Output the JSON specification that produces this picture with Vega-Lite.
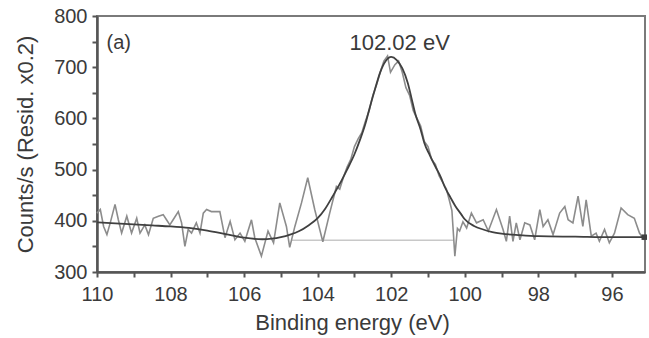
{
  "$schema": "https://vega.github.io/schema/vega-lite/v6.json",
  "width": 548,
  "height": 256,
  "autosize": {"type": "none"},
  "padding": {"left": 97, "top": 16, "right": 4, "bottom": 66},
  "background": "white",
  "config": {
    "font": "Liberation Sans",
    "view": {"stroke": "#7a7a7a", "strokeWidth": 2},
    "axis": {
      "grid": false,
      "domainColor": "#555555",
      "domainWidth": 2.5,
      "tickColor": "#555555",
      "tickWidth": 2,
      "labelFont": "Liberation Sans",
      "labelFontSize": 20,
      "labelColor": "#3a3a3a",
      "titleFont": "Liberation Sans",
      "titleFontSize": 22,
      "titleFontWeight": "normal",
      "titleColor": "#3a3a3a"
    }
  },
  "datasets": {
    "spectrum": [
      {"e": 110.0, "c": 415}, {"e": 109.91, "c": 422}, {"e": 109.82, "c": 389}, {"e": 109.73, "c": 373},
      {"e": 109.64, "c": 396}, {"e": 109.51, "c": 432}, {"e": 109.42, "c": 402}, {"e": 109.33, "c": 376},
      {"e": 109.19, "c": 409}, {"e": 109.06, "c": 376}, {"e": 108.92, "c": 405}, {"e": 108.83, "c": 376},
      {"e": 108.7, "c": 392}, {"e": 108.6, "c": 373}, {"e": 108.47, "c": 405}, {"e": 108.33, "c": 409},
      {"e": 108.2, "c": 412}, {"e": 108.11, "c": 402}, {"e": 108.02, "c": 392}, {"e": 107.93, "c": 402},
      {"e": 107.79, "c": 418}, {"e": 107.7, "c": 396}, {"e": 107.61, "c": 350}, {"e": 107.52, "c": 383},
      {"e": 107.43, "c": 376}, {"e": 107.3, "c": 396}, {"e": 107.2, "c": 376}, {"e": 107.11, "c": 415},
      {"e": 107.02, "c": 422}, {"e": 106.89, "c": 418}, {"e": 106.66, "c": 418}, {"e": 106.52, "c": 367},
      {"e": 106.38, "c": 399}, {"e": 106.25, "c": 363}, {"e": 106.11, "c": 376}, {"e": 105.98, "c": 360},
      {"e": 105.8, "c": 402}, {"e": 105.71, "c": 367}, {"e": 105.53, "c": 331}, {"e": 105.35, "c": 380},
      {"e": 105.2, "c": 357}, {"e": 105.03, "c": 435}, {"e": 104.85, "c": 389}, {"e": 104.76, "c": 348},
      {"e": 104.62, "c": 389}, {"e": 104.44, "c": 435}, {"e": 104.27, "c": 484}, {"e": 104.08, "c": 422},
      {"e": 103.86, "c": 359}, {"e": 103.67, "c": 416}, {"e": 103.49, "c": 467}, {"e": 103.4, "c": 462},
      {"e": 103.3, "c": 485}, {"e": 103.2, "c": 505}, {"e": 103.1, "c": 520}, {"e": 103.0, "c": 545},
      {"e": 102.9, "c": 560}, {"e": 102.8, "c": 572}, {"e": 102.7, "c": 595}, {"e": 102.6, "c": 615},
      {"e": 102.5, "c": 645}, {"e": 102.4, "c": 665}, {"e": 102.3, "c": 690}, {"e": 102.2, "c": 712},
      {"e": 102.1, "c": 722}, {"e": 102.02, "c": 690}, {"e": 101.9, "c": 705}, {"e": 101.8, "c": 712},
      {"e": 101.7, "c": 690}, {"e": 101.6, "c": 660}, {"e": 101.5, "c": 645}, {"e": 101.4, "c": 615},
      {"e": 101.3, "c": 600}, {"e": 101.2, "c": 585}, {"e": 101.1, "c": 555}, {"e": 101.0, "c": 545},
      {"e": 100.9, "c": 520}, {"e": 100.8, "c": 510}, {"e": 100.7, "c": 488}, {"e": 100.6, "c": 475},
      {"e": 100.5, "c": 462}, {"e": 100.42, "c": 440}, {"e": 100.35, "c": 420}, {"e": 100.27, "c": 331},
      {"e": 100.2, "c": 385}, {"e": 100.14, "c": 380}, {"e": 100.05, "c": 398}, {"e": 99.95, "c": 386},
      {"e": 99.82, "c": 415}, {"e": 99.68, "c": 396}, {"e": 99.5, "c": 402}, {"e": 99.36, "c": 380},
      {"e": 99.14, "c": 422}, {"e": 98.96, "c": 383}, {"e": 98.87, "c": 360}, {"e": 98.78, "c": 409},
      {"e": 98.69, "c": 360}, {"e": 98.6, "c": 396}, {"e": 98.5, "c": 363}, {"e": 98.37, "c": 396},
      {"e": 98.23, "c": 392}, {"e": 98.1, "c": 363}, {"e": 97.96, "c": 422}, {"e": 97.87, "c": 389},
      {"e": 97.74, "c": 402}, {"e": 97.6, "c": 373}, {"e": 97.42, "c": 415}, {"e": 97.28, "c": 428},
      {"e": 97.19, "c": 402}, {"e": 97.06, "c": 396}, {"e": 96.92, "c": 448}, {"e": 96.79, "c": 389},
      {"e": 96.7, "c": 441}, {"e": 96.56, "c": 370}, {"e": 96.43, "c": 376}, {"e": 96.34, "c": 360},
      {"e": 96.2, "c": 383}, {"e": 96.07, "c": 357}, {"e": 95.93, "c": 376}, {"e": 95.75, "c": 425},
      {"e": 95.57, "c": 412}, {"e": 95.39, "c": 405}, {"e": 95.25, "c": 376}, {"e": 95.12, "c": 363}
    ],
    "fit": [
      {"e": 110.0, "c": 397}, {"e": 109.5, "c": 395}, {"e": 109.0, "c": 393}, {"e": 108.5, "c": 391},
      {"e": 108.0, "c": 389}, {"e": 107.5, "c": 386}, {"e": 107.0, "c": 381}, {"e": 106.5, "c": 374},
      {"e": 106.0, "c": 367}, {"e": 105.5, "c": 364}, {"e": 105.25, "c": 365}, {"e": 105.0, "c": 368},
      {"e": 104.75, "c": 373}, {"e": 104.5, "c": 380}, {"e": 104.25, "c": 391}, {"e": 104.0, "c": 405},
      {"e": 103.8, "c": 423}, {"e": 103.6, "c": 447}, {"e": 103.4, "c": 472}, {"e": 103.2, "c": 500},
      {"e": 103.0, "c": 530}, {"e": 102.85, "c": 558}, {"e": 102.7, "c": 590}, {"e": 102.6, "c": 617},
      {"e": 102.45, "c": 655}, {"e": 102.3, "c": 690}, {"e": 102.15, "c": 712}, {"e": 102.0, "c": 720},
      {"e": 101.85, "c": 714}, {"e": 101.7, "c": 698}, {"e": 101.55, "c": 669}, {"e": 101.45, "c": 640},
      {"e": 101.35, "c": 610}, {"e": 101.2, "c": 578}, {"e": 101.1, "c": 552}, {"e": 100.95, "c": 528},
      {"e": 100.8, "c": 506}, {"e": 100.65, "c": 485}, {"e": 100.55, "c": 467}, {"e": 100.4, "c": 447},
      {"e": 100.25, "c": 428}, {"e": 100.1, "c": 413}, {"e": 100.0, "c": 403}, {"e": 99.75, "c": 390},
      {"e": 99.5, "c": 383}, {"e": 99.25, "c": 378}, {"e": 99.0, "c": 375}, {"e": 98.5, "c": 372},
      {"e": 98.0, "c": 370}, {"e": 97.0, "c": 369}, {"e": 96.0, "c": 368}, {"e": 95.1, "c": 368}
    ],
    "baseline": [
      {"e": 104.7, "c": 362}, {"e": 100.3, "c": 362}
    ],
    "endpoint": [
      {"e": 95.12, "c": 368}
    ],
    "labels": [
      {"e": 101.77, "c": 748, "t": "102.02 eV"}
    ],
    "panel": [
      {"e": 109.74, "c": 748, "t": "(a)"}
    ]
  },
  "encoding": {
    "x": {
      "field": "e",
      "type": "quantitative",
      "scale": {"domain": [95.1, 110], "reverse": true, "nice": false, "zero": false},
      "axis": {
        "title": "Binding energy (eV)",
        "values": [96, 97, 98, 99, 100, 101, 102, 103, 104, 105, 106, 107, 108, 109, 110],
        "labelExpr": "datum.value % 2 == 0 ? datum.label : ''",
        "tickSize": 5,
        "labelPadding": 7,
        "titlePadding": 8,
        "titleX": 255,
        "titleAlign": "center",
        "labelFlush": false
      }
    },
    "y": {
      "field": "c",
      "type": "quantitative",
      "scale": {"domain": [300, 800], "nice": false, "zero": false},
      "axis": {
        "title": "Counts/s (Resid. x0.2)",
        "values": [300, 350, 400, 450, 500, 550, 600, 650, 700, 750, 800],
        "labelExpr": "datum.value % 100 == 0 ? datum.label : ''",
        "tickSize": 5,
        "labelPadding": 5,
        "titlePadding": 16,
        "labelFlush": false
      }
    }
  },
  "layer": [
    {
      "data": {"name": "baseline"},
      "mark": {"type": "line", "color": "#c8c8c8", "strokeWidth": 1.6}
    },
    {
      "data": {"name": "spectrum"},
      "mark": {"type": "line", "color": "#8c8c8c", "strokeWidth": 1.6}
    },
    {
      "data": {"name": "fit"},
      "mark": {"type": "line", "color": "#404040", "strokeWidth": 1.8, "interpolate": "monotone"}
    },
    {
      "data": {"name": "endpoint"},
      "mark": {"type": "point", "shape": "square", "filled": true, "color": "#404040", "size": 30, "opacity": 1}
    },
    {
      "data": {"name": "labels"},
      "mark": {"type": "text", "fontSize": 22, "color": "#3a3a3a", "align": "center", "baseline": "middle", "font": "Liberation Sans"},
      "encoding": {"text": {"field": "t"}}
    },
    {
      "data": {"name": "panel"},
      "mark": {"type": "text", "fontSize": 20, "color": "#3a3a3a", "align": "left", "baseline": "middle", "font": "Liberation Sans"},
      "encoding": {"text": {"field": "t"}}
    }
  ]
}
